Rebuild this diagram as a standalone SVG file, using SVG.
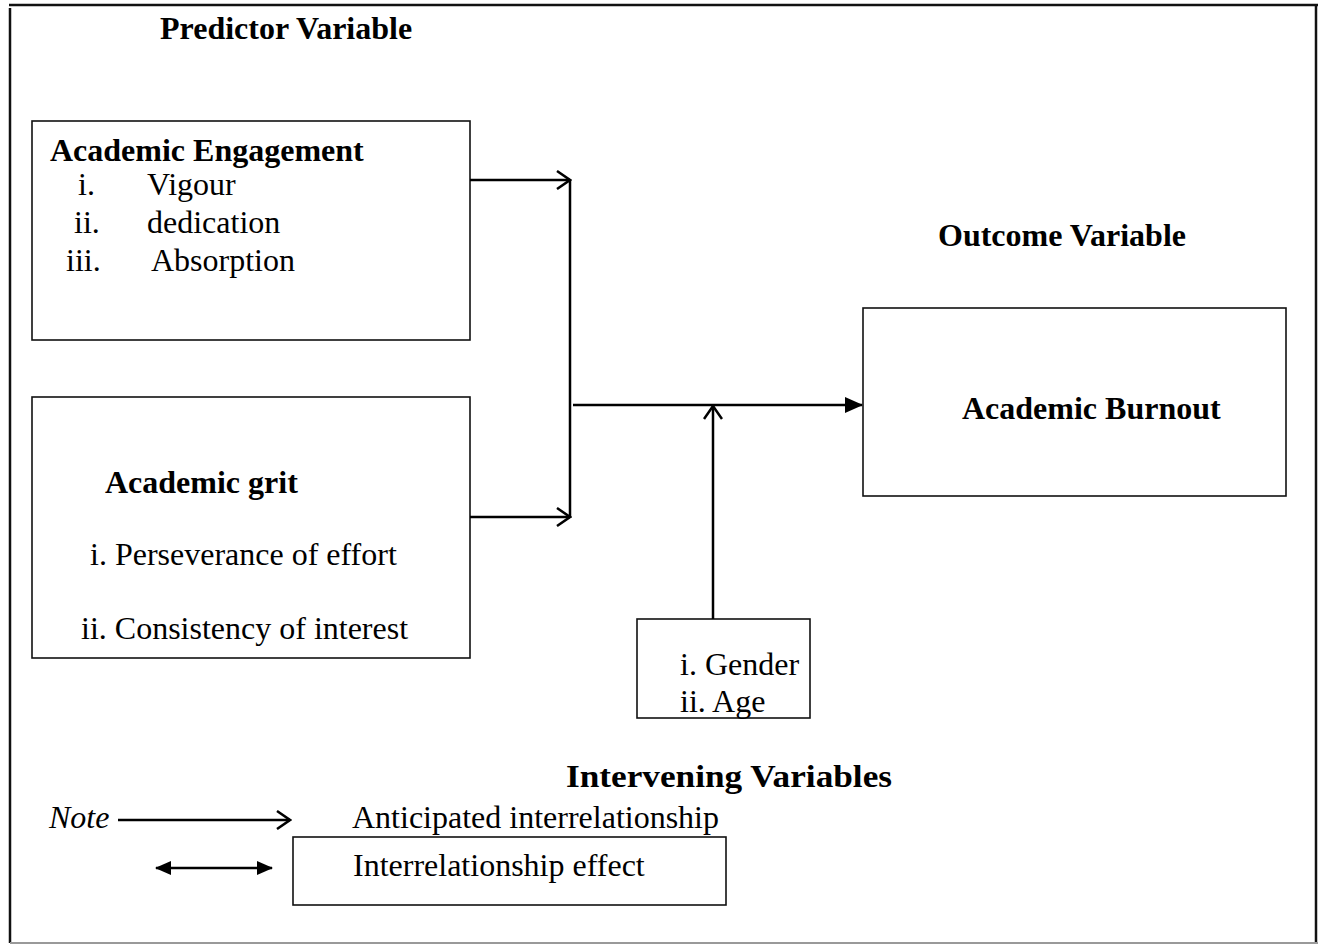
<svg xmlns="http://www.w3.org/2000/svg" width="1324" height="945" viewBox="0 0 1324 945">
<style>
.t{font-family:"Liberation Serif","Times New Roman",serif;font-size:32px;fill:#000}
.b{font-weight:bold}
.i{font-style:italic}
.box{fill:#fff;stroke:#111;stroke-width:1.6}
.c{fill:none;stroke:#000;stroke-width:2.5}
</style>
<defs>
<marker id="open" markerUnits="userSpaceOnUse" markerWidth="16" markerHeight="20" viewBox="0 0 16 20" refX="14" refY="10" orient="auto">
<path d="M1,1 L14,10 L1,19" fill="none" stroke="#000" stroke-width="2.5"/>
</marker>
<marker id="solid" markerUnits="userSpaceOnUse" markerWidth="18" markerHeight="16" viewBox="0 0 18 16" refX="17" refY="8" orient="auto">
<path d="M0,0 L18,8 L0,16 Z" fill="#000"/>
</marker>
<marker id="solid2" markerUnits="userSpaceOnUse" markerWidth="16" markerHeight="14" viewBox="0 0 16 14" refX="15" refY="7" orient="auto-start-reverse">
<path d="M0,0 L16,7 L0,14 Z" fill="#000"/>
</marker>
</defs>
<g id="frame">
<line x1="9" y1="5" x2="1318" y2="5" stroke="#111" stroke-width="2.5"/>
<line x1="10" y1="8" x2="10" y2="943" stroke="#111" stroke-width="2.5"/>
<line x1="1316" y1="5" x2="1316" y2="943" stroke="#111" stroke-width="2.5"/>
<line x1="10" y1="943" x2="1318" y2="943" stroke="#999" stroke-width="2"/>
</g>
<g id="predictor-label"><text class="t b" x="160" y="39">Predictor Variable</text></g>
<g id="engagement">
<rect class="box" x="32" y="121" width="438" height="219"/>
<text class="t b" x="50" y="161">Academic Engagement</text>
<text class="t" x="78" y="195">i.</text><text class="t" x="147" y="195">Vigour</text>
<text class="t" x="74" y="233">ii.</text><text class="t" x="147" y="233">dedication</text>
<text class="t" x="66" y="271">iii.</text><text class="t" x="151" y="271">Absorption</text>
</g>
<g id="grit">
<rect class="box" x="32" y="397" width="438" height="261"/>
<text class="t b" x="105" y="493">Academic grit</text>
<text class="t" x="90" y="565">i. Perseverance of effort</text>
<text class="t" x="81" y="639">ii. Consistency of interest</text>
</g>
<g id="outcome-label"><text class="t b" x="938" y="246">Outcome Variable</text></g>
<g id="burnout">
<rect class="box" x="863" y="308" width="423" height="188"/>
<text class="t b" x="962" y="419">Academic Burnout</text>
</g>
<g id="intervening">
<rect class="box" x="637" y="619" width="173" height="99"/>
<text class="t" x="680" y="675">i. Gender</text>
<text class="t" x="680" y="712">ii. Age</text>
</g>
<g id="intervening-label"><text class="t b" x="566" y="787" textLength="326" lengthAdjust="spacingAndGlyphs">Intervening Variables</text></g>
<g id="legend">
<text class="t i" x="49" y="828">Note</text>
<text class="t" x="352" y="828">Anticipated interrelationship</text>
<rect class="box" x="293" y="837" width="433" height="68"/>
<text class="t" x="353" y="876">Interrelationship effect</text>
</g>
<g id="connectors">
<line class="c" x1="470" y1="180" x2="570" y2="180" marker-end="url(#open)"/>
<line class="c" x1="470" y1="517" x2="570" y2="517" marker-end="url(#open)"/>
<line class="c" x1="570" y1="180" x2="570" y2="518"/>
<line class="c" x1="573" y1="405" x2="862" y2="405" marker-end="url(#solid)"/>
<line class="c" x1="713" y1="619" x2="713" y2="406" marker-end="url(#open)"/>
<line class="c" x1="118" y1="820" x2="290" y2="820" marker-end="url(#open)"/>
<line class="c" x1="156" y1="868" x2="272" y2="868" marker-start="url(#solid2)" marker-end="url(#solid2)"/>
</g>
</svg>
